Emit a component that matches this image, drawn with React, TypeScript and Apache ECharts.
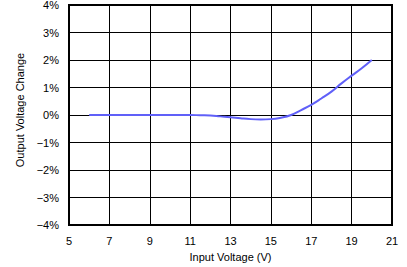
import React, { useEffect, useRef } from "react";
import * as echarts from "echarts";

const inputVoltage = [6, 7, 8, 9, 10, 11, 11.5, 12, 12.5, 13, 13.5, 14, 14.5, 15, 15.5, 16, 16.5, 17, 17.5, 18, 18.5, 19, 19.5, 20];
const outputChange = [0, 0, 0, 0, 0, 0, -0.01, -0.02, -0.05, -0.08, -0.12, -0.15, -0.16, -0.15, -0.1, 0, 0.18, 0.37, 0.6, 0.85, 1.15, 1.43, 1.7, 2.0];

const fmtPct = (v: number) => (v < 0 ? "\u2212" + Math.abs(v) : String(v)) + "%";

export default function App() {
  const ref = useRef<HTMLDivElement>(null);
  useEffect(() => {
    if (!ref.current) return;
    const chart = echarts.init(ref.current, null, { renderer: "svg" });
    const font = "Liberation Sans, Arial, Helvetica, sans-serif";
    chart.setOption({
      animation: false,
      grid: {
        left: 69,
        right: 15,
        top: 5,
        bottom: 42,
        containLabel: false,
        outerBoundsMode: "none",
        show: true,
        borderColor: "#000",
        borderWidth: 2,
        backgroundColor: "transparent",
      },
      xAxis: {
        type: "value",
        min: 5,
        max: 21,
        interval: 2,
        name: "Input Voltage (V)",
        nameLocation: "middle",
        nameGap: 26,
        nameTextStyle: { fontFamily: font, fontSize: 11, color: "#000" },
        axisLine: { show: false },
        axisTick: { show: false },
        axisLabel: { fontFamily: font, fontSize: 11, color: "#000", margin: 10 },
        splitLine: { show: true, lineStyle: { color: "#000", width: 1 } },
      },
      yAxis: {
        type: "value",
        min: -4,
        max: 4,
        interval: 1,
        name: "Output Voltage Change",
        nameLocation: "middle",
        nameGap: 44,
        nameTextStyle: { fontFamily: font, fontSize: 11, color: "#000", padding: [0, 0, 0, 10] },
        axisLine: { show: false },
        axisTick: { show: false },
        axisLabel: { fontFamily: font, fontSize: 11, color: "#000", margin: 10, formatter: fmtPct },
        splitLine: { show: true, lineStyle: { color: "#000", width: 1 } },
      },
      series: [
        {
          type: "line",
          data: inputVoltage.map((v, i) => [v, outputChange[i]]),
          showSymbol: false,
          smooth: true,
          lineStyle: { color: "#6060f8", width: 2 },
        },
      ],
    });
    return () => chart.dispose();
  }, []);
  return <div ref={ref} style={{ width: 407, height: 267, position: "absolute", left: 0, top: 0 }} />;
}
